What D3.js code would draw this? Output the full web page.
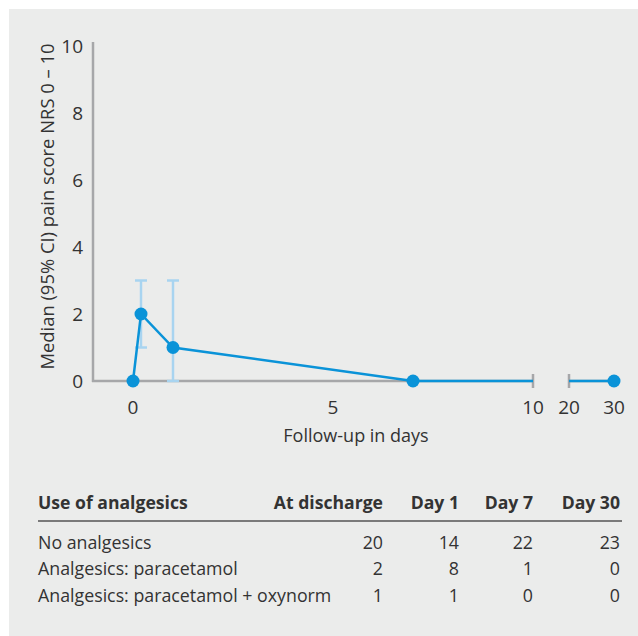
<!DOCTYPE html>
<html>
<head>
<meta charset="utf-8">
<script src="https://cdn.jsdelivr.net/npm/d3@7"></script>
<style>
  body { margin: 0; background: #fff; }
  svg text { font-family: "Open Sans", sans-serif; fill: #333; }
</style>
</head>
<body>
<div id="chart"></div>
<script>
// data
const days = [0, 0.2, 1, 7, 30];
const medians = [0, 2, 1, 0, 0];
const ciLow = [null, 1, 0, null, null];
const ciHigh = [null, 3, 3, null, null];
const yTicks = [0, 2, 4, 6, 8, 10];
const xTicksA = [0, 5, 10];
const xTicksB = [20, 30];

const tableHead = ["Use of analgesics", "At discharge", "Day 1", "Day 7", "Day 30"];
const tableRows = [
  ["No analgesics", 20, 14, 22, 23],
  ["Analgesics: paracetamol", 2, 8, 1, 0],
  ["Analgesics: paracetamol + oxynorm", 1, 1, 0, 0]
];

const W = 638, H = 636;
const blue = "#0a93d8", lightBlue = "#a8d4f0", grey = "#a6a7a9";

const svg = d3.select("#chart").append("svg")
  .attr("width", W).attr("height", H);

// panel background
svg.append("rect").attr("x", 9).attr("y", 9)
  .attr("width", W - 9).attr("height", H - 9)
  .attr("fill", "#ebeceb");

// scales: broken x axis in two pieces
const xA = d3.scaleLinear().domain([0, 10]).range([133, 533]);
const xB = d3.scaleLinear().domain([20, 30]).range([569, 614]);
const xPos = d => d <= 10 ? xA(d) : xB(d);
const y = d3.scaleLinear().domain([0, 10]).range([381, 46]);

const g = svg.append("g");

// y axis
g.append("line").attr("x1", 93).attr("x2", 93)
  .attr("y1", y(0) + 1).attr("y2", y(10) - 4)
  .attr("stroke", grey).attr("stroke-width", 2.5);
g.selectAll(".ytick").data(yTicks).join("text")
  .attr("x", 83).attr("y", d => y(d)).attr("dy", "0.36em")
  .attr("text-anchor", "end").style("font-size", "19px")
  .text(d => d);

// x axis pieces
g.append("line").attr("x1", 92).attr("x2", xA(10))
  .attr("y1", y(0)).attr("y2", y(0))
  .attr("stroke", grey).attr("stroke-width", 2.5);
g.append("line").attr("x1", xB(20)).attr("x2", xB(30))
  .attr("y1", y(0)).attr("y2", y(0))
  .attr("stroke", grey).attr("stroke-width", 2.5);
// break ticks
g.selectAll(".brk").data([xA(10), xB(20)]).join("line")
  .attr("x1", d => d).attr("x2", d => d)
  .attr("y1", y(0) - 7).attr("y2", y(0) + 7)
  .attr("stroke", grey).attr("stroke-width", 2.5);

g.selectAll(".xtA").data(xTicksA).join("text")
  .attr("x", d => xA(d)).attr("y", 414)
  .attr("text-anchor", "middle").style("font-size", "19px")
  .text(d => d);
g.selectAll(".xtB").data(xTicksB).join("text")
  .attr("x", d => xB(d)).attr("y", 414)
  .attr("text-anchor", "middle").style("font-size", "19px")
  .text(d => d);

// axis titles
g.append("text").attr("x", 356).attr("y", 442)
  .attr("text-anchor", "middle").style("font-size", "18px")
  .text("Follow-up in days");
g.append("text")
  .attr("transform", `translate(54, ${y(5) - 7}) rotate(-90)`)
  .attr("text-anchor", "middle").style("font-size", "18.4px")
  .text("Median (95% CI) pain score NRS 0 – 10");

// error bars
const ci = days.map((d, i) => ({ d, lo: ciLow[i], hi: ciHigh[i] })).filter(e => e.lo !== null);
const eb = g.selectAll(".eb").data(ci).join("g")
  .attr("stroke", lightBlue).attr("stroke-width", 2.5);
eb.append("line").attr("x1", e => xPos(e.d)).attr("x2", e => xPos(e.d))
  .attr("y1", e => y(e.lo)).attr("y2", e => y(e.hi));
eb.append("line").attr("x1", e => xPos(e.d) - 6).attr("x2", e => xPos(e.d) + 6)
  .attr("y1", e => y(e.hi)).attr("y2", e => y(e.hi));
eb.append("line").attr("x1", e => xPos(e.d) - 6).attr("x2", e => xPos(e.d) + 6)
  .attr("y1", e => y(e.lo)).attr("y2", e => y(e.lo));

// line: first piece up to the axis break, second piece after it
const pts = days.map((d, i) => ({ d, v: medians[i] }));
const lineA = pts.filter(p => p.d <= 10).concat([{ d: 10, v: medians[3] }]);
const lineB = [{ d: 20, v: medians[4] }].concat(pts.filter(p => p.d > 10));
const line = d3.line().x(p => xPos(p.d)).y(p => y(p.v));
[lineA, lineB].forEach(seg => {
  g.append("path").attr("d", line(seg))
    .attr("fill", "none").attr("stroke", blue).attr("stroke-width", 2.5);
});

g.selectAll(".pt").data(pts).join("circle")
  .attr("cx", p => xPos(p.d)).attr("cy", p => y(p.v)).attr("r", 6.5)
  .attr("fill", blue);

// table
const colX = [38, 383, 459, 533, 620];
const t = svg.append("g");
t.selectAll(".th").data(tableHead).join("text")
  .attr("x", (d, i) => colX[i]).attr("y", 509)
  .attr("text-anchor", (d, i) => i === 0 ? "start" : "end")
  .style("font-size", "17.6px").style("font-weight", "bold")
  .text(d => d);
t.append("line").attr("x1", 38).attr("x2", 622)
  .attr("y1", 521).attr("y2", 521)
  .attr("stroke", "#555").attr("stroke-width", 1.6);
const rowY = [549, 575, 602];
tableRows.forEach((row, r) => {
  t.selectAll(".r" + r).data(row).join("text")
    .attr("x", (d, i) => colX[i]).attr("y", rowY[r])
    .attr("text-anchor", (d, i) => i === 0 ? "start" : "end")
    .style("font-size", "17.8px")
    .text(d => d);
});
</script>
</body>
</html>
